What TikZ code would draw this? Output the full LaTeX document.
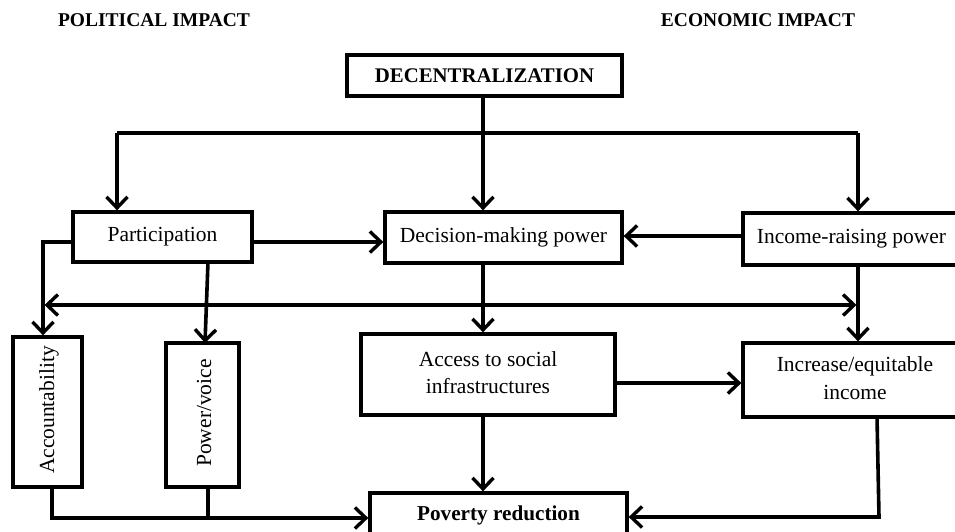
\documentclass[tikz,border=0pt]{standalone}
\usepackage{fontspec}
\setmainfont{Liberation Serif}
\usetikzlibrary{arrows.meta,calc}
\begin{document}
\begin{tikzpicture}[x=1pt,y=-1pt,
  box/.style={draw,line width=3.3pt,inner sep=0pt,align=center,
    font=\fontsize{21.5}{27.5}\selectfont},
  vlabel/.style={rotate=90,inner sep=0pt,font=\fontsize{21.5}{25}\selectfont},
  head/.style={inner sep=0pt,font=\fontsize{19.5}{22}\selectfont\bfseries},
  conn/.style={line width=3.6pt},
  tip/.tip={Straight Barb[length=11pt,width=21pt,line width=3.4pt]},
  arr/.style={conn,-tip},
  darr/.style={conn,tip-tip}]
\useasboundingbox (0,0) rectangle (955,531);
% headings
\node[head] (hpol) at (154,20) {POLITICAL IMPACT};
\node[head] (heco) at (758,20) {ECONOMIC IMPACT};
% boxes
\node[box,minimum width=275pt,minimum height=41pt,font=\fontsize{20.8}{24}\selectfont\bfseries] (dec) at (484.5,75.5) {DECENTRALIZATION};
\node[box,minimum width=179pt,minimum height=50pt] (part) at (162.5,237) {\raisebox{5pt}{Participation}};
\node[box,minimum width=237pt,minimum height=51pt] (dmp) at (503.5,237.5) {\raisebox{3pt}{Decision-making power}};
\node[box,minimum width=217pt,minimum height=52pt] (inc) at (851.5,239) {\raisebox{3pt}{Income-raising power}};
\node[box,minimum width=69pt,minimum height=150pt] (acc) at (47.5,412) {};
\node[vlabel] (accl) at (49,410) {Accountability};
\node[box,minimum width=73pt,minimum height=144pt] (pow) at (202.5,415) {};
\node[vlabel] (powl) at (204,413) {Power/voice};
\node[box,minimum width=254pt,minimum height=81pt] (soc) at (488,374.5) {\raisebox{6pt}{\begin{tabular}{@{}c@{}}Access to social\\infrastructures\end{tabular}}};
\node[box,minimum width=224pt,minimum height=74pt] (eq) at (855,380) {\raisebox{2pt}{\begin{tabular}{@{}c@{}}Increase/equitable\\income\end{tabular}}};
\node[box,minimum width=257pt,minimum height=44pt,font=\fontsize{21.2}{24}\selectfont\bfseries] (pov) at (498.5,515) {\raisebox{2pt}{Poverty reduction}};
% helper coordinates
\coordinate (tl) at (117,133);
\coordinate (tr) at (858,133);
\coordinate (hl) at (43,305);
\coordinate (hr) at (858,305);
\coordinate (pl) at (43,242);
\coordinate (pvt) at (208,262);
\coordinate (pvb) at (205,343);
\coordinate (ab) at (52,518);
\coordinate (pb) at (208,518);
\coordinate (et) at (877,417);
\coordinate (eb) at (879,517);
% connectors
\draw[conn] (dec.south -| 483,0) -- (tl -| 483,0);
\draw[arr] (tl -| 483,0) -- (dmp.north -| 483,0);
\draw[conn] (tl) -- (tr);
\draw[arr] (tl) -- (tl |- part.north);
\draw[arr] (tr) -- (tr |- inc.north);
\draw[arr] (part.east |- pl) -- (dmp.west |- pl);
\draw[arr] (inc.west |- 0,236) -- (dmp.east |- 0,236);
\draw[arr] (part.west |- pl) -- (pl) -- (pl |- acc.north);
\draw[darr] ($(hl)+(1.5,0)$) -- ($(hr)+(-1.5,0)$);
\draw[arr] (pvt) -- (pvb);
\draw[arr] (dmp.south -| 483,0) -- (soc.north -| 483,0);
\draw[arr] (inc.south -| tr) -- (eq.north -| tr);
\draw[arr] (soc.east |- 0,383) -- (eq.west |- 0,383);
\draw[arr] (soc.south -| 483,0) -- (pov.north -| 483,0);
\draw[arr] (acc.south -| ab) -- (ab) -- (pov.west |- ab);
\draw[conn] (pow.south -| pb) -- (pb);
\draw[arr] (et) -- (eb) -- (pov.east |- eb);
\end{tikzpicture}
\end{document}
